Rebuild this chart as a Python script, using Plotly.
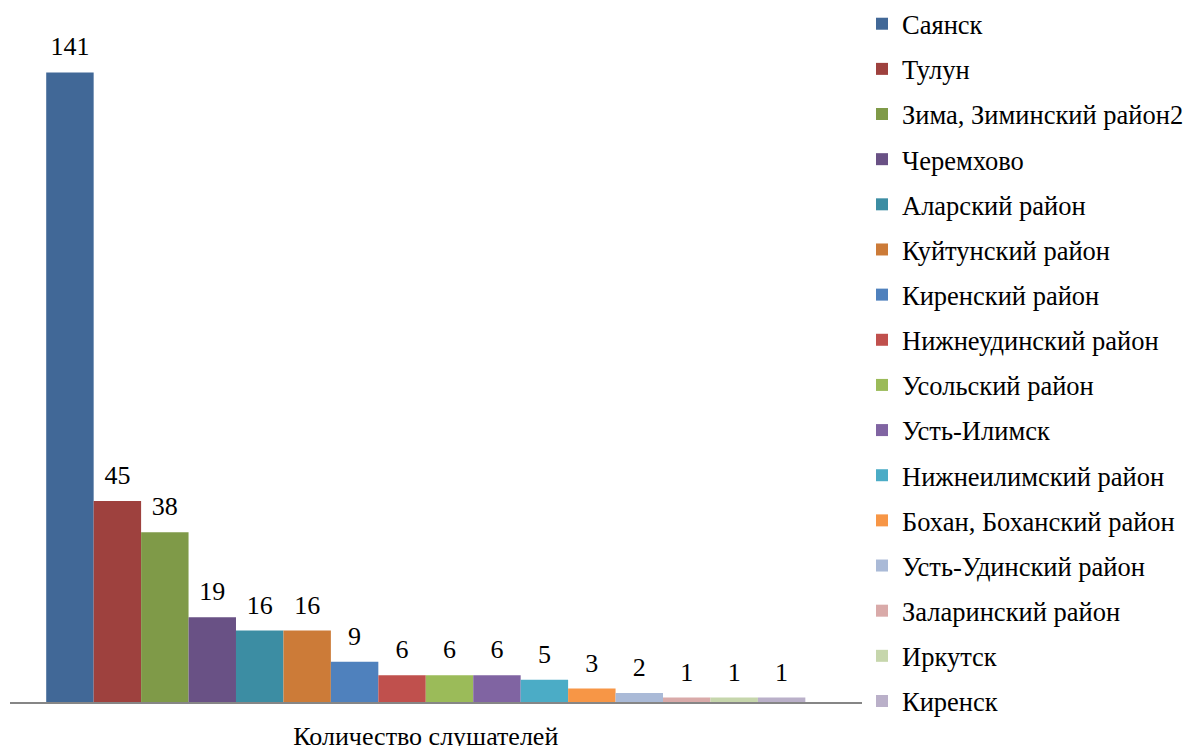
import plotly.graph_objects as go

category = ["Количество слушателей"]
names = ["Саянск", "Тулун", "Зима, Зиминский район2", "Черемхово", "Аларский район",
         "Куйтунский район", "Киренский район", "Нижнеудинский район", "Усольский район",
         "Усть-Илимск", "Нижнеилимский район", "Бохан, Боханский район",
         "Усть-Удинский район", "Заларинский район", "Иркутск", "Киренск"]
values = [141, 45, 38, 19, 16, 16, 9, 6, 6, 6, 5, 3, 2, 1, 1, 1]
colors = ["#416897", "#9E413E", "#7F9A48", "#695185", "#3C8DA3", "#CC7B38",
          "#4F81BD", "#C0504D", "#9BBB59", "#8064A2", "#4BACC6", "#F79646",
          "#AABAD7", "#D9AAA9", "#C6D6AC", "#BAB0C9"]

FONT = "Liberation Serif"
LABEL_GAP = 1.8  # spacing (in axis units) between bar top and its value label

fig = go.Figure()
for i, (n, v, c) in enumerate(zip(names, values, colors)):
    fig.add_trace(go.Bar(
        x=category, y=[v], name=n, marker_color=c, marker_line_width=0,
        offsetgroup=str(i), legendgroup=f"g{i}", hoverinfo="name+y",
    ))
    # transparent spacer carrying the value label above the bar
    fig.add_trace(go.Bar(
        x=category, y=[LABEL_GAP], base=[v], offsetgroup=str(i),
        marker_color="rgba(0,0,0,0)", marker_line_width=0,
        text=[str(v)], textposition="outside", cliponaxis=False,
        textfont=dict(family=FONT, size=26, color="#000000"),
        showlegend=False, hoverinfo="skip", legendgroup=f"g{i}",
    ))

fig.update_layout(
    width=1184, height=746,
    barmode="group", bargap=0.109, bargroupgap=0,
    paper_bgcolor="white", plot_bgcolor="white",
    margin=dict(l=10, r=322, t=10, b=44, autoexpand=False),
    font=dict(family=FONT, size=26, color="#000000"),
    showlegend=True,
    legend=dict(x=1.0, xanchor="left", y=1.0, yref="container", yanchor="top",
                font=dict(family=FONT, size=26.5, color="#000000"),
                traceorder="grouped", tracegroupgap=7.7, maxheight=746,
                itemclick=False, itemdoubleclick=False),
)
fig.update_xaxes(showline=True, linecolor="#868686", linewidth=2, ticks="",
                 range=[-0.488, 0.512], fixedrange=True,
                 showgrid=False, ticklabelstandoff=10,
                 tickfont=dict(family=FONT, size=26))
fig.update_yaxes(range=[0, 155], visible=False, showgrid=False, zeroline=False,
                 fixedrange=True)

fig.write_html("out.html", config={"displayModeBar": False},
               post_script="document.body.style.margin='0';document.body.style.overflow='hidden';")
